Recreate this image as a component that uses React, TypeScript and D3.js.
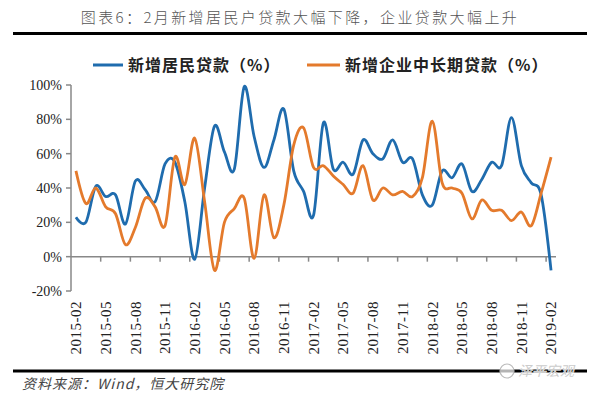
import { useEffect, useRef } from "react";
import * as d3 from "d3";

// 2015-02 ... 2019-02, monthly
const months = d3
  .timeMonth.range(new Date(2015, 1, 1), new Date(2019, 2, 1))
  .map(d3.timeFormat("%Y-%m"));

const xTickLabels = [
  "2015-02", "2015-05", "2015-08", "2015-11",
  "2016-02", "2016-05", "2016-08", "2016-11",
  "2017-02", "2017-05", "2017-08", "2017-11",
  "2018-02", "2018-05", "2018-08", "2018-11",
  "2019-02",
];

const yTicks = [-20, 0, 20, 40, 60, 80, 100];

// 新增居民贷款 (%)
const household = [
  23, 20, 41, 35, 36, 19, 44, 39, 32, 54,
  55, 32, -1.5, 40, 76, 61, 51, 99, 70, 52,
  68, 86, 50, 38, 24, 78, 51, 55, 48, 68,
  60, 57, 68, 55, 57, 36, 30, 50, 46, 54,
  38, 45, 55, 53, 81, 53, 43, 36, -8,
];

// 新增企业中长期贷款 (%)
const corporate = [
  50, 31, 40, 29, 25, 7, 17, 34, 29, 18,
  58, 42, 69, 32, -8, 20, 28, 34, -1, 36,
  11, 30, 65, 75, 52, 53, 47, 42, 37, 53,
  33, 40, 36, 38, 35, 46, 79, 43, 40, 37,
  22, 33, 27, 27, 21, 26, 18, 37, 58,
];

const series = [
  { label: "新增居民贷款（%）", values: household, color: "#1f6cae" },
  { label: "新增企业中长期贷款（%）", values: corporate, color: "#e47a2c" },
];

export default function App() {
  const width = 600;
  const height = 399;
  const svgRef = useRef<SVGSVGElement>(null);

  useEffect(() => {
    document.body.style.margin = "0";
    const svg = d3.select(svgRef.current);
    svg.selectAll("*").remove();

    const x = d3.scaleBand<string>().domain(months).range([71, 556]);
    const y = d3.scaleLinear().domain([-20, 100]).range([291, 85]);
    const cx = (m: string) => (x(m) as number) + x.bandwidth() / 2;

    // title + rules
    svg
      .append("text")
      .attr("x", 300)
      .attr("y", 23)
      .attr("text-anchor", "middle")
      .attr("font-family", "'Noto Sans CJK SC'")
      .attr("font-size", 15)
      .attr("font-weight", 300)
      .attr("letter-spacing", 2.4)
      .attr("fill", "#555")
      .text("图表6：2月新增居民户贷款大幅下降，企业贷款大幅上升");
    svg
      .append("line")
      .attr("x1", 13).attr("x2", 587)
      .attr("y1", 33.5).attr("y2", 33.5)
      .attr("stroke", "#000").attr("stroke-width", 3);
    svg
      .append("line")
      .attr("x1", 13).attr("x2", 587)
      .attr("y1", 371).attr("y2", 371)
      .attr("stroke", "#000").attr("stroke-width", 3);

    // legend
    const legendX = [93, 307];
    const legend = svg
      .append("g")
      .selectAll("g")
      .data(series)
      .join("g")
      .attr("transform", (_, i) => `translate(${legendX[i]},65)`);
    legend
      .append("line")
      .attr("x1", 0).attr("x2", (_, i) => (i === 0 ? 30 : 33))
      .attr("stroke", (d) => d.color)
      .attr("stroke-width", 3);
    legend
      .append("text")
      .attr("x", (_, i) => (i === 0 ? 35 : 38))
      .attr("dy", "0.35em")
      .attr("font-family", "'Noto Sans CJK SC'")
      .attr("font-size", 16)
      .attr("font-weight", "bold")
      .attr("letter-spacing", 1)
      .attr("fill", "#222")
      .text((d) => d.label);

    // y axis
    svg
      .append("line")
      .attr("x1", 71).attr("x2", 71)
      .attr("y1", y(100)).attr("y2", y(-20))
      .attr("stroke", "#888").attr("stroke-width", 1.5);
    const yg = svg.append("g").selectAll("g").data(yTicks).join("g");
    yg.append("line")
      .attr("x1", 66).attr("x2", 71)
      .attr("y1", (d) => y(d)).attr("y2", (d) => y(d))
      .attr("stroke", "#888").attr("stroke-width", 1.5);
    yg.append("text")
      .attr("x", 62)
      .attr("y", (d) => y(d))
      .attr("dy", "0.35em")
      .attr("text-anchor", "end")
      .attr("font-family", "'Liberation Serif'")
      .attr("font-size", 14)
      .attr("fill", "#222")
      .text((d) => `${d}%`);

    // x axis at 0%
    svg
      .append("line")
      .attr("x1", 71).attr("x2", 556)
      .attr("y1", y(0)).attr("y2", y(0))
      .attr("stroke", "#888").attr("stroke-width", 1.5);
    const tickPos = months
      .map((m, i) => ({ m, i }))
      .filter((d) => d.i > 0 && d.i % 3 === 0)
      .map((d) => x(d.m) as number);
    svg
      .append("g")
      .selectAll("line")
      .data(tickPos)
      .join("line")
      .attr("x1", (d) => d).attr("x2", (d) => d)
      .attr("y1", y(0)).attr("y2", y(0) + 5)
      .attr("stroke", "#888").attr("stroke-width", 1.5);
    svg
      .append("g")
      .selectAll("text")
      .data(xTickLabels)
      .join("text")
      .attr("transform", (d) => `translate(${cx(d)},301) rotate(-90)`)
      .attr("text-anchor", "end")
      .attr("dy", "0.35em")
      .attr("font-family", "'Liberation Serif'")
      .attr("font-size", 15)
      .attr("letter-spacing", 0.5)
      .attr("fill", "#222")
      .text((d) => d);

    // lines (excel-like smoothing)
    const line = d3
      .line<number>()
      .x((_, i) => cx(months[i]))
      .y((d) => y(d))
      .curve(d3.curveCardinal.tension(0));
    svg
      .append("g")
      .selectAll("path")
      .data(series)
      .join("path")
      .attr("d", (d) => line(d.values))
      .attr("fill", "none")
      .attr("stroke", (d) => d.color)
      .attr("stroke-width", 2.8)
      .attr("stroke-linejoin", "round");

    // source + watermark
    svg
      .append("text")
      .attr("x", 22)
      .attr("y", 389)
      .attr("font-family", "'Noto Sans CJK SC'")
      .attr("font-size", 14)
      .attr("font-style", "italic")
      .attr("letter-spacing", 1)
      .attr("fill", "#444")
      .text("资料来源：Wind，恒大研究院");
    svg
      .append("circle")
      .attr("cx", 507).attr("cy", 371).attr("r", 7)
      .attr("fill", "rgba(255,255,255,0.7)")
      .attr("stroke", "#bbb").attr("stroke-width", 1.2);
    svg
      .append("text")
      .attr("x", 518)
      .attr("y", 376)
      .attr("font-family", "'Noto Sans CJK SC'")
      .attr("font-size", 14)
      .attr("font-style", "italic")
      .attr("fill", "#ccc")
      .attr("stroke", "#fff")
      .attr("stroke-width", 0.6)
      .attr("paint-order", "stroke")
      .text("泽平宏观");
  }, []);

  return <svg ref={svgRef} width={width} height={height} style={{ display: "block", background: "#fff" }}></svg>;
}
